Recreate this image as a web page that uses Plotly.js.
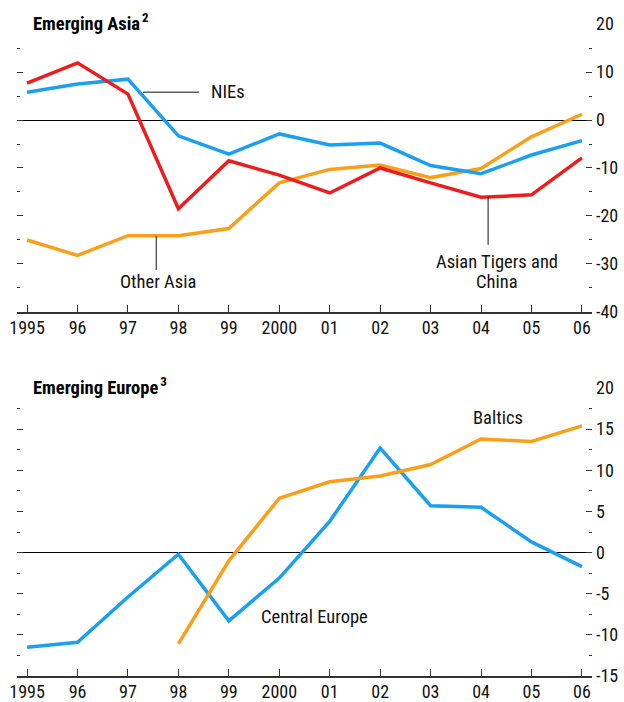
<!DOCTYPE html>
<html>
<head>
<meta charset="utf-8">
<script src="https://cdn.plot.ly/plotly-3.0.1.min.js"></script>
<style>html,body{margin:0;padding:0;background:#fff;}#chart{width:624px;height:702px;}</style>
</head>
<body>
<div id="chart"></div>
<script>
const years = [1995,1996,1997,1998,1999,2000,2001,2002,2003,2004,2005,2006];
const yearLabels = ["1995","96","97","98","99","2000","01","02","03","04","05","06"];

// Emerging Asia
const asianTigersChina = [7.7,11.9,5.4,-18.5,-8.5,-11.5,-15.2,-10.0,-13.1,-16.1,-15.6,-7.9];
const nies = [5.8,7.5,8.5,-3.3,-7.1,-2.9,-5.2,-4.8,-9.5,-11.2,-7.3,-4.3];
const otherAsia = [-25.0,-28.2,-24.1,-24.1,-22.6,-13.1,-10.3,-9.4,-12.0,-10.1,-3.5,1.2];
const asiaTickVals = [20,10,0,-10,-20,-30,-40];
const asiaTickText = ["20","10","0","-10","-20","-30","-40"];

// Emerging Europe
const centralEurope = [-11.5,-10.9,-5.4,-0.2,-8.3,-3.1,3.8,12.7,5.7,5.5,1.3,-1.7];
const balticsYears = [1998,1999,2000,2001,2002,2003,2004,2005,2006];
const baltics = [-11.1,-1.0,6.6,8.6,9.3,10.7,13.8,13.5,15.4];
const europeTickVals = [20,15,10,5,0,-5,-10,-15];
const europeTickText = ["20","15","10","5","0","-5","-10","-15"];

const BLUE = "#1aa0f0", RED = "#ee1c1c", ORANGE = "#f9a01b";
const FONT = "Roboto Condensed, DejaVu Sans Condensed, Liberation Sans Narrow, sans-serif";
const AX = "#333333";

const traces = [
  {x: years, y: otherAsia, xaxis:"x", yaxis:"y", mode:"lines", line:{color:ORANGE,width:3.5}},
  {x: years, y: nies, xaxis:"x", yaxis:"y", mode:"lines", line:{color:BLUE,width:3.5}},
  {x: years, y: asianTigersChina, xaxis:"x", yaxis:"y", mode:"lines", line:{color:RED,width:3.5}},
  {x: years, y: centralEurope, xaxis:"x2", yaxis:"y2", mode:"lines", line:{color:BLUE,width:3.5}},
  {x: balticsYears, y: baltics, xaxis:"x2", yaxis:"y2", mode:"lines", line:{color:ORANGE,width:3.5}}
];

function xax(anchor){
  return {anchor: anchor, range:[1994.8,2006.2], tickmode:"array", tickvals: years, ticktext: yearLabels,
    ticks:"inside", ticklen:7, tickwidth:1, tickcolor:AX, showline:true, linecolor:AX, linewidth:2,
    ticklabelstandoff:-2,
    showgrid:false, zeroline:false, tickfont:{family:FONT,size:18,color:"#111"}, fixedrange:true};
}
function yax(anchor, domain, range, vals, text, minor){
  return {anchor: anchor, domain: domain, range: range, side:"right", tickmode:"array", tickvals: vals, ticktext: text,
    ticks:"inside", ticklen:6, tickwidth:1, tickcolor:AX, mirror:"ticks",
    minor:{dtick:minor, tick0:0, ticks:"inside", ticklen:3, tickcolor:AX, tickwidth:1, showgrid:false},
    showline:false, showgrid:false, zeroline:true, zerolinecolor:"#000", zerolinewidth:1,
    ticklabelstandoff:3,
    tickfont:{family:FONT,size:18,color:"#111"}, fixedrange:true};
}

const annFont = {family:FONT, size:18.5, color:"#111"};
const titleFont = {family:FONT, size:18.5, color:"#000"};
const layout = {
  width:624, height:702,
  margin:{l:17, r:32, t:24, b:26},
  paper_bgcolor:"#fff", plot_bgcolor:"#fff",
  showlegend:false,
  xaxis: xax("y"),
  yaxis: yax("x", [0.5583,1], [-40,20], asiaTickVals, asiaTickText, 5),
  xaxis2: xax("y2"),
  yaxis2: yax("x2", [0,0.4417], [-15,20], europeTickVals, europeTickText, 2.5),
  shapes:[
    {type:"line", xref:"x", yref:"y", x0:1997.30, x1:1998.41, y0:5.8, y1:5.8, line:{color:"#111",width:1}},
    {type:"line", xref:"x", yref:"y", x0:1997.56, x1:1997.56, y0:-24.2, y1:-31.25, line:{color:"#111",width:1}},
    {type:"line", xref:"x", yref:"y", x0:2004.14, x1:2004.14, y0:-16.0, y1:-26.0, line:{color:"#111",width:1}}
  ],
  annotations:[
    {xref:"paper", yref:"paper", x:0.024, y:1.003, xanchor:"left", yanchor:"middle", showarrow:false,
     text:"<b>Emerging Asia</b><span style='font-size:8px'> </span><sup><b>2</b></sup>", font:titleFont},
    {xref:"paper", yref:"paper", x:0.024, y:0.4447, xanchor:"left", yanchor:"middle", showarrow:false,
     text:"<b>Emerging Europe</b><span style='font-size:8px'> </span><sup><b>3</b></sup>", font:titleFont},
    {xref:"x", yref:"y", x:1998.6, y:5.8, xanchor:"left", yanchor:"middle", showarrow:false, text:"NIEs", font:annFont},
    {xref:"x", yref:"y", x:1997.6, y:-33.75, xanchor:"center", yanchor:"middle", showarrow:false, text:"Other Asia", font:annFont},
    {xref:"x", yref:"y", x:2004.32, y:-29.6, xanchor:"center", yanchor:"middle", showarrow:false, text:"Asian Tigers and", font:annFont},
    {xref:"x", yref:"y", x:2004.32, y:-33.75, xanchor:"center", yanchor:"middle", showarrow:false, text:"China", font:annFont},
    {xref:"x2", yref:"y2", x:2004.34, y:16.35, xanchor:"center", yanchor:"middle", showarrow:false, text:"Baltics", font:annFont},
    {xref:"x2", yref:"y2", x:2000.69, y:-7.8, xanchor:"center", yanchor:"middle", showarrow:false, text:"Central Europe", font:annFont}
  ]
};

Plotly.newPlot("chart", traces, layout, {displayModeBar:false, staticPlot:true});
</script>
</body>
</html>
